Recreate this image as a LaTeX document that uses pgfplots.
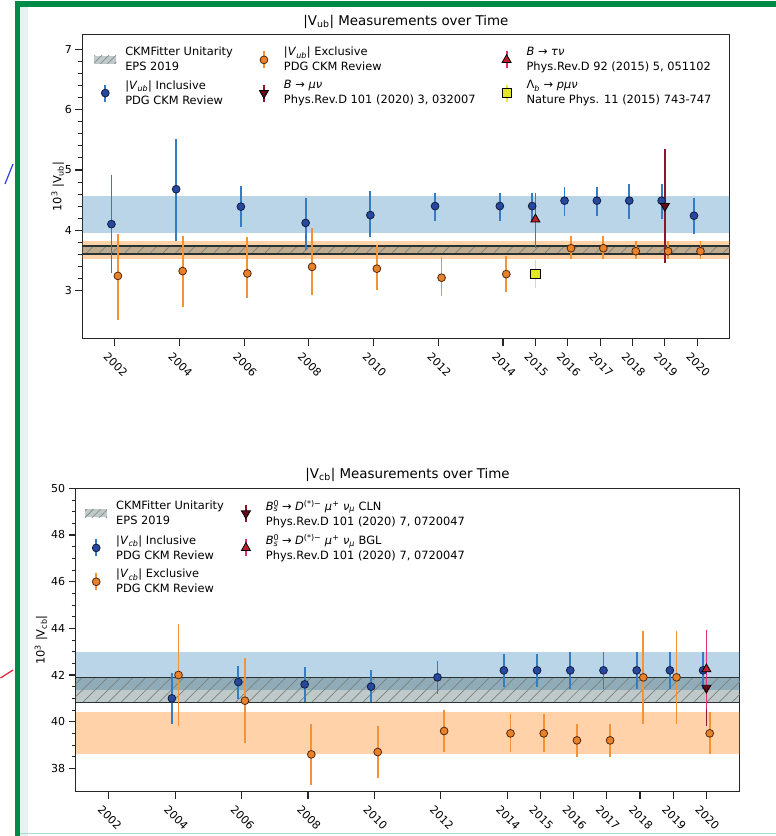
\documentclass[border=0pt]{standalone}
\usepackage{fontspec}
\setmainfont{DejaVu Sans}
\usepackage{pgfplots}
\pgfplotsset{compat=1.18}
\usepackage{pgfplotstable}
\usetikzlibrary{patterns.meta}

\definecolor{incbar}{RGB}{52,124,196}
\definecolor{incfill}{RGB}{38,72,158}
\definecolor{incedge}{RGB}{18,28,62}
\definecolor{excbar}{RGB}{244,146,52}
\definecolor{excfill}{RGB}{232,130,42}
\definecolor{excedge}{RGB}{85,38,12}
\definecolor{bandblue}{RGB}{31,119,180}
\definecolor{bandorange}{RGB}{255,127,14}
\definecolor{ckm}{RGB}{47,79,79}
\definecolor{ckmhatch}{RGB}{120,130,128}
\definecolor{ckmedge}{RGB}{40,50,50}
\definecolor{taubar}{RGB}{226,48,120}
\definecolor{taufill}{RGB}{190,30,45}
\definecolor{mubar}{RGB}{140,22,45}
\definecolor{mufill}{RGB}{100,10,25}
\definecolor{lbbar}{RGB}{240,228,60}
\definecolor{lbfill}{RGB}{228,228,40}
\definecolor{framegreen}{RGB}{0,138,72}
\definecolor{tealpale}{RGB}{228,243,240}
\definecolor{tealline}{RGB}{170,220,210}
\definecolor{strokeblue}{RGB}{40,60,220}
\definecolor{strokered}{RGB}{220,30,50}

\newcommand{\legfont}{\fontsize{11.4}{15}\selectfont}
\newcommand{\tickfont}{\fontsize{11}{13}\selectfont}
\newcommand{\titlefont}{\fontsize{13.4}{16}\selectfont}

% legend handle: vertical error bar with a marker
\newcommand{\errleg}[2]{\addlegendimage{legend image code/.code={
  \path[draw=none,fill=none] (0pt,-9pt) rectangle (31pt,9pt);
  \draw[#1, line width=1.8pt] (11pt,-8.5pt) -- (11pt,8.5pt);
  \draw plot[only marks, #2] coordinates {(11pt,0pt)};}}}
% legend handle: hatched band patch
\newcommand{\bandleg}{\addlegendimage{legend image code/.code={
  \path[draw=none,fill=none] (0pt,-5pt) rectangle (31pt,5pt);
  \fill[draw=none, ckm, fill opacity=0.3] (0pt,-4pt) rectangle (22pt,4pt);
  \fill[draw=none, pattern={Lines[angle=45,distance=5pt,line width=0.6pt]}, pattern color=ckmhatch, fill opacity=0.4] (0pt,-4pt) rectangle (22pt,4pt);}}}

\pgfplotsset{
  meas/.style={
    scale only axis,
    xmin=2001, xmax=2021,
    xtick={2002,2004,2006,2008,2010,2012,2014,2015,2016,2017,2018,2019,2020},
    xticklabels={2002,2004,2006,2008,2010,2012,2014,2015,2016,2017,2018,2019,2020},
    tick pos=left, tick align=outside,
    major tick length=7pt, minor tick length=4pt,
    tick style={black!85, line width=1.1pt},
    minor tick style={line width=0.9pt},
    axis line style={black!85, line width=1.1pt},
    /pgf/number format/assume math mode=true,
    tick label style={font=\tickfont},
    xticklabel style={anchor=center, yshift=-19pt, xshift=1pt, rotate=-45},
    label style={font=\legfont},
    title style={font=\titlefont, at={(0.5,1)}, anchor=base, yshift=3.5pt, inner sep=0pt},
    legend cell align=left,
    legend style={draw=none, fill=none, inner sep=0pt, outer sep=0pt,
      font=\legfont, nodes={inner sep=0pt}, row sep=8pt,
      cells={align=left}},
  },
  incpt/.style={forget plot, only marks, mark=*, mark size=3.9pt,
    mark options={fill=incfill, draw=incedge, line width=0.8pt},
    error bars/.cd, y dir=both, y explicit, error mark=none,
    error bar style={incbar, line width=1.8pt}, /pgfplots/.cd},
  excpt/.style={forget plot, only marks, mark=*, mark size=3.9pt,
    mark options={fill=excfill, draw=excedge, line width=0.8pt},
    error bars/.cd, y dir=both, y explicit, error mark=none,
    error bar style={excbar, line width=1.8pt}, /pgfplots/.cd},
  band/.style={draw=none, fill=#1, forget plot},
  hatch/.style={draw=none, forget plot, pattern={Lines[angle=45,distance=9pt,line width=0.7pt]}, pattern color=ckmhatch, fill opacity=0.45},
}

% |V_ub|: inclusive and exclusive averages (x offset by -0.1 / +0.1 yr)
\pgfplotstableread{
x      y     ep    em
2001.9 4.10  0.82  0.82
2003.9 4.68  0.84  0.86
2005.9 4.39  0.34  0.33
2007.9 4.12  0.42  0.45
2009.9 4.25  0.40  0.37
2011.9 4.40  0.22  0.25
2013.9 4.40  0.22  0.25
2014.9 4.40  0.22  0.25
2015.9 4.49  0.22  0.25
2016.9 4.49  0.22  0.25
2017.9 4.49  0.27  0.31
2018.9 4.49  0.27  0.31
2019.9 4.24  0.30  0.31
}\vubinc
\pgfplotstableread{
x      y     ep    em
2002.1 3.24  0.70  0.74
2004.1 3.32  0.59  0.60
2006.1 3.28  0.61  0.40
2008.1 3.39  0.64  0.46
2010.1 3.36  0.40  0.35
2012.1 3.21  0.34  0.30
2014.1 3.27  0.30  0.30
2016.1 3.70  0.21  0.18
2017.1 3.70  0.21  0.18
2018.1 3.65  0.17  0.13
2019.1 3.65  0.17  0.13
2020.1 3.65  0.17  0.13
}\vubexc
% |V_cb|: inclusive and exclusive averages
\pgfplotstableread{
x      y     ep    em
2003.9 41.0  1.10  1.10
2005.9 41.7  0.70  0.72
2007.9 41.6  0.75  0.77
2009.9 41.5  0.72  0.67
2011.9 41.9  0.70  0.71
2013.9 42.2  0.68  0.70
2014.9 42.2  0.68  0.70
2015.9 42.2  0.80  0.80
2016.9 42.2  0.80  0.80
2017.9 42.2  0.80  0.80
2018.9 42.2  0.80  0.80
2019.9 42.2  0.80  0.80
}\vcbinc
\pgfplotstableread{
x      y     ep    em
2004.1 42.0  2.20  2.20
2006.1 40.9  1.85  1.80
2008.1 38.6  1.30  1.30
2010.1 38.7  1.10  1.10
2012.1 39.6  0.90  0.90
2014.1 39.5  0.85  0.80
2015.1 39.5  0.85  0.80
2016.1 39.2  0.70  0.70
2017.1 39.2  0.70  0.70
2018.1 41.9  2.00  2.00
2019.1 41.9  2.00  2.00
2020.1 39.5  0.90  0.90
}\vcbexc

\begin{document}
\begin{tikzpicture}[x=1pt,y=-1pt]
\fill[white] (0,0) rectangle (776,836);
\useasboundingbox (0,0) rectangle (776,836);
\fill[tealpale] (19.5,6.5) rectangle (28,836);
\fill[framegreen] (14.5,1) rectangle (776,6.5);
\fill[framegreen] (14.5,1) rectangle (19.5,836);
\draw[tealline, line width=1.2pt] (19.5,833.5) -- (776,833.5);
\draw[strokeblue, line width=1.2pt] (5,184) -- (13,164);
\draw[strokered, line width=1.2pt] (0.5,678) -- (13,670);

% ---------------- |V_ub| ----------------
\begin{axis}[meas,
  at={(82.3pt,-34.5pt)}, anchor=north west,
  width=647.3pt, height=304pt,
  ymin=2.2, ymax=7.25, ytick={3,4,5,6,7}, minor y tick num=4,
  title={|V\textsubscript{ub}| Measurements over Time},
  ylabel={10\textsuperscript{3} |V\textsubscript{ub}|},
  ylabel style={at={(rel axis cs:-0.038,0.5)}, anchor=center},
  legend columns=3,
  legend style={at={(0.0185,0.958)}, anchor=north west,
    /tikz/every even column/.append style={column sep=20pt}},
]
\bandleg
\addlegendentry{CKMFitter Unitarity\\EPS 2019}
\errleg{excbar}{mark=*, mark size=3.9pt, mark options={fill=excfill, draw=excedge, line width=0.8pt}}
\addlegendentry{|\textit{V}\textsubscript{\textit{ub}}| Exclusive\\PDG CKM Review}
\errleg{taubar}{mark=triangle*, mark size=5.2pt, mark options={fill=taufill, draw=black, line width=0.8pt}}
\addlegendentry{\textit{B} → \textit{τν}\\Phys.Rev.D 92 (2015) 5, 051102}
\errleg{incbar}{mark=*, mark size=3.9pt, mark options={fill=incfill, draw=incedge, line width=0.8pt}}
\addlegendentry{|\textit{V}\textsubscript{\textit{ub}}| Inclusive\\PDG CKM Review}
\errleg{mubar}{mark=triangle*, mark size=5.2pt, mark options={rotate=180, fill=mufill, draw=black, line width=0.8pt}}
\addlegendentry{\textit{B} → \textit{μν}\\Phys.Rev.D 101 (2020) 3, 032007}
\errleg{lbbar}{mark=square*, mark size=4.6pt, mark options={fill=lbfill, draw=black, line width=0.8pt}}
\addlegendentry{Λ\textsubscript{\textit{b}} → \textit{pμν}\\Nature Phys. 11 (2015) 743-747}

% bands: latest inclusive, latest exclusive, CKMFitter
\addplot[band=bandblue, fill opacity=0.3] coordinates {(2001,3.945) (2021,3.945) (2021,4.57) (2001,4.57)} -- cycle;
\addplot[band=bandorange, fill opacity=0.35] coordinates {(2001,3.52) (2021,3.52) (2021,3.82) (2001,3.82)} -- cycle;
\addplot[band=ckm, fill opacity=0.3] coordinates {(2001,3.60) (2021,3.60) (2021,3.737) (2001,3.737)} -- cycle;
\addplot[hatch] coordinates {(2001,3.60) (2021,3.60) (2021,3.737) (2001,3.737)} -- cycle;
\addplot[ckmedge, line width=1.5pt, forget plot] coordinates {(2001,3.60) (2021,3.60)};
\addplot[ckmedge, line width=1.5pt, forget plot] coordinates {(2001,3.737) (2021,3.737)};

\addplot[incpt] table[x=x, y=y, y error plus=ep, y error minus=em] {\vubinc};
\addplot[excpt] table[x=x, y=y, y error plus=ep, y error minus=em] {\vubexc};
% B -> tau nu
\addplot[forget plot, only marks, mark=triangle*, mark size=5.2pt, mark options={fill=taufill, draw=black, line width=0.8pt},
  error bars/.cd, y dir=both, y explicit, error mark=none, error bar style={taubar, line width=1.8pt}]
  coordinates {(2015,4.18) += (0,0.43) -= (0,0.47)};
% B -> mu nu
\addplot[forget plot, only marks, mark=triangle*, mark size=5.2pt, mark options={rotate=180, fill=mufill, draw=black, line width=0.8pt},
  error bars/.cd, y dir=both, y explicit, error mark=none, error bar style={mubar, line width=1.8pt}]
  coordinates {(2019,4.40) += (0,0.94) -= (0,0.95)};
% Lambda_b -> p mu nu
\addplot[forget plot, only marks, mark=square*, mark size=4.6pt, mark options={fill=lbfill, draw=black, line width=0.8pt},
  error bars/.cd, y dir=both, y explicit, error mark=none, error bar style={lbbar, line width=1.8pt}]
  coordinates {(2015,3.27) += (0,0.23) -= (0,0.23)};
\end{axis}

% ---------------- |V_cb| ----------------
\begin{axis}[meas,
  at={(75.6pt,-488.3pt)}, anchor=north west,
  width=664pt, height=303.4pt,
  ymin=37, ymax=50, ytick={38,40,42,44,46,48,50}, minor y tick num=3,
  title={|V\textsubscript{cb}| Measurements over Time},
  ylabel={10\textsuperscript{3} |V\textsubscript{cb}|},
  ylabel style={at={(rel axis cs:-0.052,0.5)}, anchor=center},
  legend columns=2,
  legend style={at={(0.0145,0.961)}, anchor=north west,
    /tikz/every even column/.append style={column sep=11pt}},
]
\bandleg
\addlegendentry{CKMFitter Unitarity\\EPS 2019}
\errleg{mubar}{mark=triangle*, mark size=5.2pt, mark options={rotate=180, fill=mufill, draw=black, line width=0.8pt}}
\addlegendentry{\textit{B}\rlap{\textsuperscript{0}}\textsubscript{\textit{s}} → \textit{D}\textsuperscript{(*)−} \textit{μ}\textsuperscript{+} \textit{ν}\textsubscript{\textit{μ}} CLN\\Phys.Rev.D 101 (2020) 7, 0720047}
\errleg{incbar}{mark=*, mark size=3.9pt, mark options={fill=incfill, draw=incedge, line width=0.8pt}}
\addlegendentry{|\textit{V}\textsubscript{\textit{cb}}| Inclusive\\PDG CKM Review}
\errleg{taubar}{mark=triangle*, mark size=5.2pt, mark options={fill=taufill, draw=black, line width=0.8pt}}
\addlegendentry{\textit{B}\rlap{\textsuperscript{0}}\textsubscript{\textit{s}} → \textit{D}\textsuperscript{(*)−} \textit{μ}\textsuperscript{+} \textit{ν}\textsubscript{\textit{μ}} BGL\\Phys.Rev.D 101 (2020) 7, 0720047}
\errleg{excbar}{mark=*, mark size=3.9pt, mark options={fill=excfill, draw=excedge, line width=0.8pt}}
\addlegendentry{|\textit{V}\textsubscript{\textit{cb}}| Exclusive\\PDG CKM Review}

\addplot[band=bandblue, fill opacity=0.3] coordinates {(2001,41.35) (2021,41.35) (2021,43.0) (2001,43.0)} -- cycle;
\addplot[band=bandorange, fill opacity=0.35] coordinates {(2001,38.6) (2021,38.6) (2021,40.43) (2001,40.43)} -- cycle;
\addplot[band=ckm, fill opacity=0.3] coordinates {(2001,40.83) (2021,40.83) (2021,41.89) (2001,41.89)} -- cycle;
\addplot[hatch] coordinates {(2001,40.83) (2021,40.83) (2021,41.89) (2001,41.89)} -- cycle;
\addplot[ckmedge, line width=1.5pt, forget plot] coordinates {(2001,40.83) (2021,40.83)};
\addplot[ckmedge, line width=1.5pt, forget plot] coordinates {(2001,41.89) (2021,41.89)};

\addplot[incpt] table[x=x, y=y, y error plus=ep, y error minus=em] {\vcbinc};
\addplot[excpt] table[x=x, y=y, y error plus=ep, y error minus=em] {\vcbexc};
% LHCb B_s -> D(*) mu nu, CLN and BGL
\addplot[forget plot, only marks, mark=triangle*, mark size=5.2pt, mark options={rotate=180, fill=mufill, draw=black, line width=0.8pt},
  error bars/.cd, y dir=both, y explicit, error mark=none, error bar style={mubar, line width=1.8pt}]
  coordinates {(2020,41.45) += (0,1.55) -= (0,1.65)};
\addplot[forget plot, only marks, mark=triangle*, mark size=5.2pt, mark options={fill=taufill, draw=black, line width=0.8pt},
  error bars/.cd, y dir=both, y explicit, error mark=none, error bar style={taubar, line width=1.8pt}]
  coordinates {(2020,42.25) += (0,1.7) -= (0,1.7)};
\end{axis}
\end{tikzpicture}
\end{document}
